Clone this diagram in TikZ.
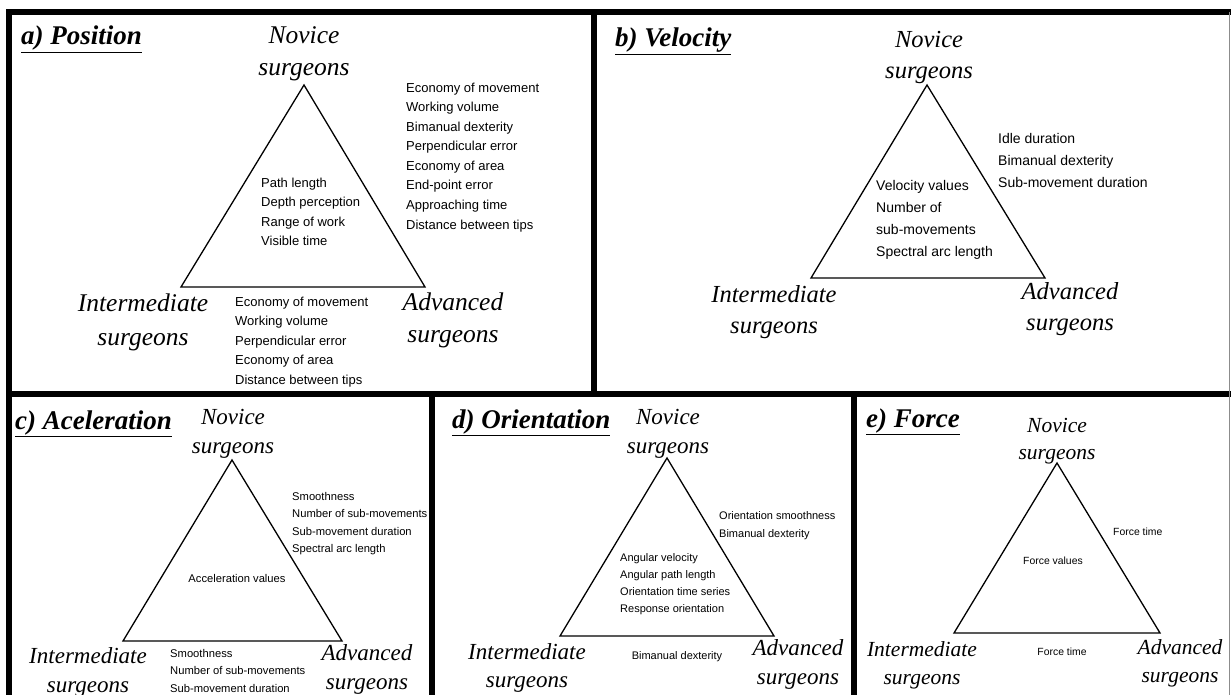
\documentclass[tikz,border=0pt]{standalone}
\usepackage{fontspec}
\setmainfont{Liberation Serif}
\setsansfont{Liberation Sans}
\usepackage{tikz}

\tikzset{
  frame/.style={line width=6pt, line cap=rect},
  tri/.style={line width=1.3pt, line join=miter},
  paneltitle/.style={font=\fontsize{27}{30}\selectfont\bfseries\itshape, anchor=base west, inner sep=0pt},
  group/.style 2 args={font=\fontsize{#1}{#2}\selectfont\itshape, align=center, anchor=base, inner sep=0pt},
  metric/.style 2 args={font=\sffamily\fontsize{#1}{#2}\selectfont, align=left, anchor=base west, inner sep=0pt},
  metricc/.style 2 args={font=\sffamily\fontsize{#1}{#2}\selectfont, align=center, anchor=base, inner sep=0pt},
}

\begin{document}
\begin{tikzpicture}[x=1pt,y=-1pt]
\useasboundingbox (0,0) rectangle (1231,695);
\fill[white] (0,0) rectangle (1231,695);

% panel frames
\draw[frame] (9,695) -- (9,12) -- (1231,12);
\draw[frame] (9,394) -- (1231,394);
\draw[frame] (594,12) -- (594,394);
\draw[frame] (432,394) -- (432,695);
\draw[frame] (854,394) -- (854,695);
\draw[black!45, line width=1pt] (1229,12) -- (1229,695);

% a) position  (multi-line nodes sit on their last baseline)
\node[paneltitle] (ta) at (21,45) {\underline{a) Position}};
\node[group={25.5}{32}] (nova) at (304,76) {Novice\\surgeons};
\coordinate (a1) at (304,85);
\coordinate (a2) at (181,287);
\coordinate (a3) at (425,287);
\draw[tri] (a1) -- (a2) -- (a3) -- cycle;
\node[metric={13}{19.6}] (ina) at (261,245.8) {Path length\\Depth perception\\Range of work\\Visible time};
\node[metric={13}{19.6}] (rga) at (406,229.2) {Economy of movement\\Working volume\\Bimanual dexterity\\Perpendicular error\\Economy of area\\End-point error\\Approaching time\\Distance between tips};
\node[group={25.5}{34}] (inta) at (143,345) {Intermediate\\surgeons};
\node[metric={13}{19.6}] (bta) at (235,384.4) {Economy of movement\\Working volume\\Perpendicular error\\Economy of area\\Distance between tips};
\node[group={25.5}{32}] (adva) at (453,342) {Advanced\\surgeons};

% b) velocity
\node[paneltitle] (tb) at (615,47) {\underline{b) Velocity}};
\node[group={24.5}{31}] (novb) at (929,79) {Novice\\surgeons};
\coordinate (b1) at (927,85);
\coordinate (b2) at (811,278);
\coordinate (b3) at (1045,278);
\draw[tri] (b1) -- (b2) -- (b3) -- cycle;
\node[metric={14}{22.3}] (rgb) at (998,187.6) {Idle duration\\Bimanual dexterity\\Sub-movement duration};
\node[metric={14}{22}] (inb) at (876,256) {Velocity values\\Number of\\sub-movements\\Spectral arc length};
\node[group={24.5}{31}] (intb) at (774,333) {Intermediate\\surgeons};
\node[group={24.5}{31}] (advb) at (1070,330) {Advanced\\surgeons};

% c) acceleration
\node[paneltitle] (tc) at (15,429) {\underline{c) Aceleration}};
\node[group={23}{29.5}] (novc) at (233,453.5) {Novice\\surgeons};
\coordinate (c1) at (232,460);
\coordinate (c2) at (123,641);
\coordinate (c3) at (342,641);
\draw[tri] (c1) -- (c2) -- (c3) -- cycle;
\node[metric={11.2}{17.6}] (rgc) at (292,552.8) {Smoothness\\Number of sub-movements\\Sub-movement duration\\Spectral arc length};
\node[metricc={11.2}{17.6}] (inc) at (237,582) {Acceleration values};
\node[group={23}{29.5}] (intc) at (88,692.5) {Intermediate\\surgeons};
\node[metric={11.2}{17.8}] (btc) at (170,692.6) {Smoothness\\Number of sub-movements\\Sub-movement duration};
\node[group={23}{29.5}] (advc) at (367,689.5) {Advanced\\surgeons};

% d) orientation
\node[paneltitle] (td) at (452,428) {\underline{d) Orientation}};
\node[group={23}{29.5}] (novd) at (668,453.5) {Novice\\surgeons};
\coordinate (d1) at (667,458);
\coordinate (d2) at (560,636);
\coordinate (d3) at (774,636);
\draw[tri] (d1) -- (d2) -- (d3) -- cycle;
\node[metric={11}{18}] (rgd) at (719,537) {Orientation smoothness\\Bimanual dexterity};
\node[metric={11}{17.2}] (ind) at (620,612.6) {Angular velocity\\Angular path length\\Orientation time series\\Response orientation};
\node[group={23}{28.5}] (intd) at (527,687.5) {Intermediate\\surgeons};
\node[metricc={11}{17}] (btd) at (677,659) {Bimanual dexterity};
\node[group={23}{29.5}] (advd) at (798,684.5) {Advanced\\surgeons};

% e) force
\node[paneltitle] (te) at (866,427) {\underline{e) Force}};
\node[group={21.5}{27}] (nove) at (1057,459) {Novice\\surgeons};
\coordinate (e1) at (1057,463);
\coordinate (e2) at (954,633);
\coordinate (e3) at (1160,633);
\draw[tri] (e1) -- (e2) -- (e3) -- cycle;
\node[metric={10.4}{16}] (rge) at (1113,535.5) {Force time};
\node[metricc={10.4}{16}] (ine) at (1053,564.5) {Force values};
\node[group={21.5}{28}] (inte) at (922,684) {Intermediate\\surgeons};
\node[metricc={10.4}{16}] (bte) at (1062,655.5) {Force time};
\node[group={21.5}{28}] (adve) at (1180,682) {Advanced\\surgeons};

\end{tikzpicture}
\end{document}
